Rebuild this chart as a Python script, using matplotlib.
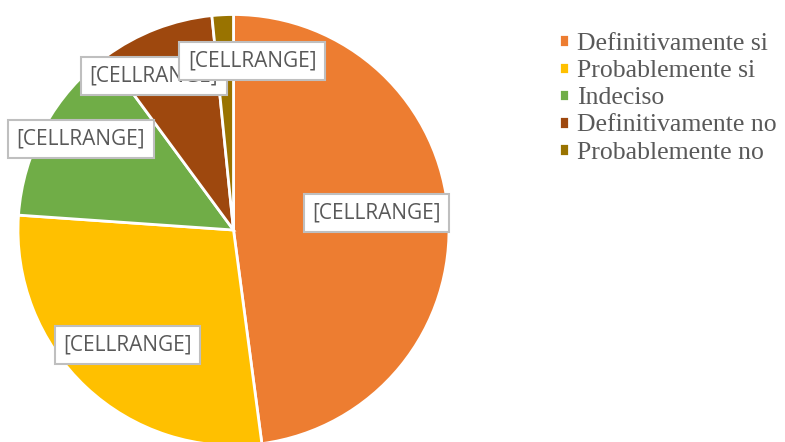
import matplotlib
matplotlib.use("Agg")
import matplotlib.pyplot as plt

categories = ["Definitivamente si", "Probablemente si", "Indeciso",
              "Definitivamente no", "Probablemente no"]
values = [47.9, 28.2, 13.8, 8.5, 1.6]
labels = ["[CELLRANGE]"] * 5
colors = ["#ED7D31", "#FFC000", "#70AD47", "#9E480E", "#997300"]

# where the label boxes sit (data coords, pie radius = 1)
label_pos = [(0.662, 0.079), (-0.490, -0.534), (-0.708, 0.422),
             (-0.369, 0.715), (0.086, 0.784)]

W, H = 785, 442
fig = plt.figure(figsize=(W / 100, H / 100), dpi=100)
ax = fig.add_axes([18 / W, -3.5 / H, 431 / W, 431 / H])

wedges, _ = ax.pie(values, colors=colors, startangle=90, counterclock=False,
                   wedgeprops=dict(edgecolor="white", linewidth=2))
ax.set_xlim(-1, 1)
ax.set_ylim(-1, 1)
ax.set_aspect("equal")
ax.axis("off")

for lab, (x, y) in zip(labels, label_pos):
    ax.text(x, y, lab, ha="center", va="center", fontsize=15,
            family="Open Sans", color="#595959",
            bbox=dict(boxstyle="square,pad=0.4", fc="white",
                      ec="#BFBFBF", lw=1.5))

fig.legend(wedges, categories, loc="upper left",
           bbox_to_anchor=(559 / W, 1 - 33 / H), frameon=False,
           prop=dict(family="Liberation Serif", size=18.5),
           labelcolor="#595959", handlelength=0.39, handleheight=0.39,
           handletextpad=0.31, labelspacing=0.2, borderpad=0,
           borderaxespad=0)

fig.savefig("out.png", dpi=100)
